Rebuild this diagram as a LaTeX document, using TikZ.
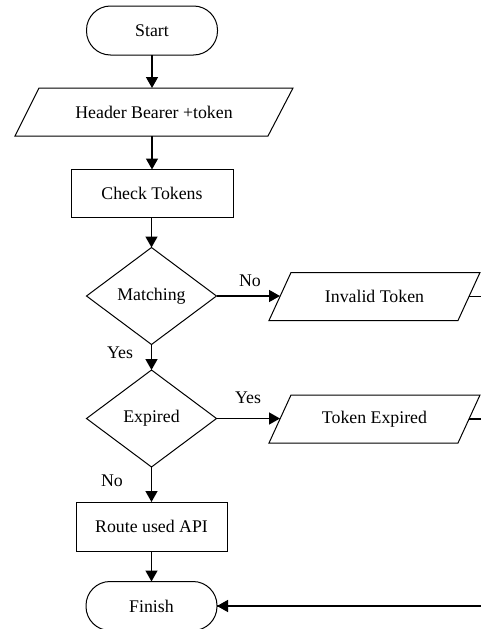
\documentclass[tikz,border=0pt]{standalone}
\usepackage{fontspec}
\setmainfont{Liberation Serif}
\usetikzlibrary{arrows.meta,calc}
\begin{document}
\begin{tikzpicture}[x=1pt,y=-1pt,
  every node/.style={font=\fontsize{17.8}{20}\selectfont, inner sep=0pt, outer sep=0pt},
  box/.style={rectangle, minimum width=#1, minimum height=48pt},
  term/.style={draw, line width=1pt, rectangle, rounded corners=24pt, minimum width=131pt, minimum height=49pt},
  proc/.style={draw, line width=1pt, rectangle, minimum height=48pt},
  outline/.style={line width=1pt, line join=miter},
  conn/.style={line width=1.5pt, -{Triangle[length=11pt,width=12pt]}},
  plain/.style={line width=1.5pt},
  lbl/.style={}]
\useasboundingbox (0,0) rectangle (481,629);
\clip (0,0) rectangle (481,629);
% nodes
\node[term] (start) at (152,30.5) {Start};
\node[box=278pt] (hdr) at (154,112) {Header Bearer +token};
\draw[outline] ($(hdr.north west)+(24,0)$) -- (hdr.north east) -- ($(hdr.south east)-(25,0)$) -- (hdr.south west) -- cycle;
\node[proc, minimum width=162pt] (chk) at (152,193.5) {Check Tokens};
\node[rectangle, minimum width=130pt, minimum height=97pt] (mat) at (151.5,296) {Matching};
\draw[outline] (mat.north) -- (mat.east) -- (mat.south) -- (mat.west) -- cycle;
\node[rectangle, minimum width=130pt, minimum height=97pt] (exp) at (151.5,418.5) {Expired};
\draw[outline] (exp.north) -- (exp.east) -- (exp.south) -- (exp.west) -- cycle;
\node[box=211pt] (inv) at (374.5,296.5) {Invalid Token};
\draw[outline] ($(inv.north west)+(22,0)$) -- (inv.north east) -- ($(inv.south east)-(22,0)$) -- (inv.south west) -- cycle;
\node[box=211pt] (tex) at (374.5,419) {Token Expired};
\draw[outline] ($(tex.north west)+(22,0)$) -- (tex.north east) -- ($(tex.south east)-(22,0)$) -- (tex.south west) -- cycle;
\node[proc, minimum width=151pt, minimum height=49pt] (route) at (151.5,526.5) {Route used API};
\node[term] (fin) at (151.5,606) {Finish};
% helper coordinates
\coordinate (invL) at ($(inv.west)+(11,0)$);
\coordinate (invR) at ($(inv.east)-(11,0)$);
\coordinate (texL) at ($(tex.west)+(11,0)$);
\coordinate (texR) at ($(tex.east)-(11,0)$);
\coordinate (rail) at (500,297);
% connectors
\draw[conn] (start.south) -- (start.south |- hdr.north);
\draw[conn] (start.south |- hdr.south) -- (start.south |- chk.north);
\draw[conn] (chk.south -| mat.north) -- (mat.north);
\draw[conn] (mat.south) -- (exp.north);
\draw[conn] (exp.south) -- (route.north -| exp.south);
\draw[conn] (route.south -| fin.north) -- (fin.north);
\draw[conn] (mat.east) -- (mat.east -| invL);
\draw[conn] (exp.east) -- (exp.east -| texL);
\draw[plain] (invR) -- (invR -| rail) |- (fin.east);
\draw[conn] (rail |- fin.east) -- (fin.east);
\draw[plain] (texR) -- (texR -| rail);
% labels
\node[lbl] (lno1) at (250,281) {No};
\node[lbl] (lyes1) at (120,353) {Yes};
\node[lbl] (lyes2) at (248,398) {Yes};
\node[lbl] (lno2) at (112,481) {No};
\end{tikzpicture}
\end{document}
